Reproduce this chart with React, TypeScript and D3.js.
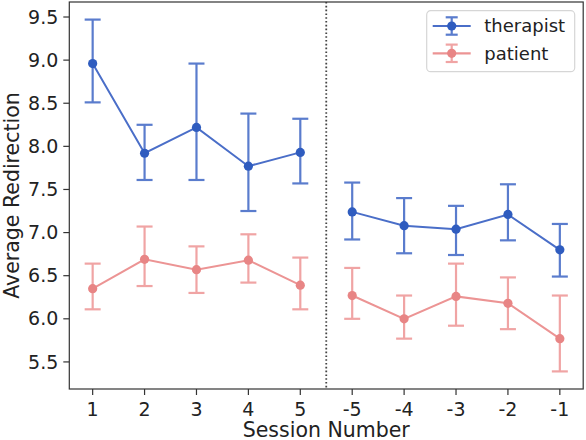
import React from "react";
import * as d3 from "d3";

const sessions = ["1", "2", "3", "4", "5", "-5", "-4", "-3", "-2", "-1"];
const therapistMean = [8.96, 7.92, 8.22, 7.77, 7.93, 7.24, 7.08, 7.04, 7.21, 6.8];
const therapistHigh = [9.47, 8.25, 8.96, 8.38, 8.32, 7.58, 7.4, 7.31, 7.56, 7.1];
const therapistLow = [8.51, 7.61, 7.61, 7.25, 7.57, 6.92, 6.76, 6.74, 6.91, 6.49];
const patientMean = [6.35, 6.69, 6.57, 6.68, 6.39, 6.27, 6.0, 6.26, 6.18, 5.77];
const patientHigh = [6.64, 7.07, 6.84, 6.98, 6.71, 6.59, 6.27, 6.64, 6.48, 6.27];
const patientLow = [6.11, 6.38, 6.3, 6.42, 6.11, 6.0, 5.77, 5.92, 5.88, 5.39];
const yTicks = [5.5, 6.0, 6.5, 7.0, 7.5, 8.0, 8.5, 9.0, 9.5];
const seriesNames = ["therapist", "patient"];
const dividerAt = 4.5;

const W = 586;
const H = 440;
const left = 69.3;
const right = 583.2;
const top = 2;
const bottom = 389;
const FONT = "DejaVu Sans, sans-serif";

const styles = [
  { line: "#4a6ec8", err: "#5a7ccd", marker: "#2f5cbf" },
  { line: "#ec9494", err: "#f0a4a4", marker: "#e88585" },
];

export default function App() {
  const n = sessions.length;
  const x = d3.scaleLinear().domain([-0.05 * (n - 1), (n - 1) * 1.05]).range([left, right]);
  const allLo = d3.min([...therapistLow, ...patientLow]) as number;
  const allHi = d3.max([...therapistHigh, ...patientHigh]) as number;
  const pad = 0.05 * (allHi - allLo);
  const y = d3.scaleLinear().domain([allLo - pad, allHi + pad]).range([bottom, top]);

  const series = [
    { mean: therapistMean, lo: therapistLow, hi: therapistHigh },
    { mean: patientMean, lo: patientLow, hi: patientHigh },
  ];
  const segLine = (offset: number) =>
    d3
      .line<number>()
      .x((_, i) => x(i + offset))
      .y((d) => y(d));

  const capW = 8;

  return (
    <svg width={W} height={H} style={{ position: "absolute", left: 0, top: 0 }} fontFamily={FONT}>
      <rect x={0} y={0} width={W} height={H} fill="#fff" />
      <line
        x1={x(dividerAt)}
        x2={x(dividerAt)}
        y1={top}
        y2={bottom}
        stroke="#444"
        strokeWidth={1.8}
        strokeDasharray="1.6,2.2"
      />
      {series.map((s, si) => (
        <g key={si}>
          {s.mean.map((m, i) => (
            <g key={i} stroke={styles[si].err} strokeWidth={2.2}>
              <line x1={x(i)} x2={x(i)} y1={y(s.lo[i])} y2={y(s.hi[i])} />
              <line x1={x(i) - capW} x2={x(i) + capW} y1={y(s.lo[i])} y2={y(s.lo[i])} />
              <line x1={x(i) - capW} x2={x(i) + capW} y1={y(s.hi[i])} y2={y(s.hi[i])} />
            </g>
          ))}
          <path d={segLine(0)(s.mean.slice(0, 5)) || ""} fill="none" stroke={styles[si].line} strokeWidth={2} />
          <path d={segLine(5)(s.mean.slice(5)) || ""} fill="none" stroke={styles[si].line} strokeWidth={2} />
          {s.mean.map((m, i) => (
            <circle key={i} cx={x(i)} cy={y(m)} r={4.6} fill={styles[si].marker} />
          ))}
        </g>
      ))}
      <rect x={left} y={top} width={right - left} height={bottom - top} fill="none" stroke="#333" strokeWidth={1.2} />
      {yTicks.map((t) => (
        <g key={t}>
          <line x1={left - 6} x2={left} y1={y(t)} y2={y(t)} stroke="#333" strokeWidth={1.2} />
          <text x={left - 11} y={y(t)} dy="0.35em" textAnchor="end" fontSize={19} fill="#222">
            {t.toFixed(1)}
          </text>
        </g>
      ))}
      {sessions.map((s, i) => (
        <g key={s}>
          <line x1={x(i)} x2={x(i)} y1={bottom} y2={bottom + 6} stroke="#333" strokeWidth={1.2} />
          <text x={x(i)} y={415.5} textAnchor="middle" fontSize={19} fill="#222">
            {s}
          </text>
        </g>
      ))}
      <text x={(left + right) / 2} y={436.5} textAnchor="middle" fontSize={20.5} fill="#222">
        Session Number
      </text>
      <text
        transform={`translate(18.5,${(top + bottom) / 2}) rotate(-90)`}
        textAnchor="middle"
        fontSize={20.5}
        fill="#222"
      >
        Average Redirection
      </text>
      <rect x={426.7} y={10.7} width={148} height={61} rx={4} fill="#fff" fillOpacity={0.8} stroke="#d6d6d6" strokeWidth={1.2} />
      {seriesNames.map((name, si) => {
        const cy = 26 + si * 27.3;
        const cx = 451.7;
        return (
          <g key={name}>
            <line x1={432.7} x2={470.7} y1={cy} y2={cy} stroke={styles[si].line} strokeWidth={2.2} />
            <g stroke={styles[si].err} strokeWidth={2.2}>
              <line x1={cx} x2={cx} y1={cy - 8.7} y2={cy + 8.7} />
              <line x1={cx - 6} x2={cx + 6} y1={cy - 8.7} y2={cy - 8.7} />
              <line x1={cx - 6} x2={cx + 6} y1={cy + 8.7} y2={cy + 8.7} />
            </g>
            <circle cx={cx} cy={cy} r={4.6} fill={styles[si].marker} />
            <text x={484.3} y={cy} dy="0.35em" fontSize={18} fill="#222">
              {name}
            </text>
          </g>
        );
      })}
    </svg>
  );
}
